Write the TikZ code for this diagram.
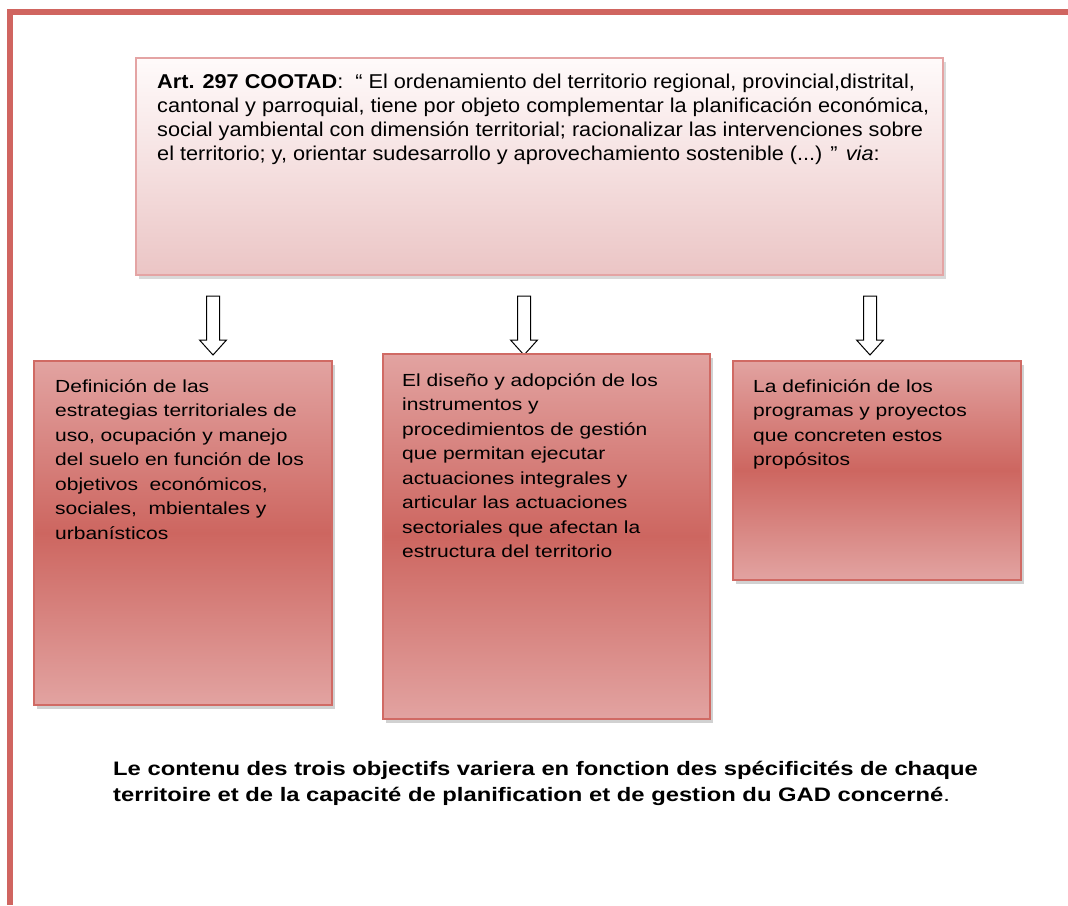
\documentclass[tikz,border=0pt]{standalone}
\usepackage{fontspec}
\setmainfont{Liberation Sans}
\newfontfamily\goalfont[FakeStretch=1.2]{Liberation Sans}
\newfontfamily\artfont[FakeStretch=1.085]{Liberation Sans}
\newfontfamily\remarkfont[FakeStretch=1.22]{Liberation Sans}
\usetikzlibrary{shadows}
\definecolor{framered}{RGB}{208,101,96}
\definecolor{toptop}{RGB}{255,251,251}
\definecolor{topbottom}{RGB}{235,197,197}
\definecolor{topline}{RGB}{228,164,164}
\definecolor{goallight}{RGB}{226,163,161}
\definecolor{goaldark}{RGB}{205,102,96}
\definecolor{goalline}{RGB}{208,106,100}
\tikzset{
  frame/.style={line width=6.5pt,framered},
  topbox/.style={draw=topline,line width=1.5pt,top color=toptop,bottom color=topbottom,
    drop shadow={shadow xshift=3pt,shadow yshift=-4pt,opacity=0.25,fill=black!60}},
  goalbox/.style={draw=goalline,line width=1.5pt,top color=goallight,bottom color=goallight,
    middle color=goaldark,drop shadow={shadow xshift=3pt,shadow yshift=-4pt,opacity=0.3,fill=black!60}},
  boxtext/.style={inner sep=0pt,anchor=base west},
  hollow/.style={draw=black,fill=white,line width=1pt}
}

\begin{document}
\begin{tikzpicture}[x=1pt,y=-1pt]
    \useasboundingbox (0,0) rectangle (1068,905);
    \draw[frame] (1068,12) -- (10,12) -- (10,905);

    \node[topbox,anchor=north west,minimum width=807pt,minimum height=217pt] (cootad) at (135,57) {};
    \node[boxtext] (cootadtxt) at (157,88.5) {\parbox[t]{780pt}{\artfont\fontsize{20}{24}\selectfont
      \textbf{Art. 297 COOTAD}:\ \ “ El ordenamiento del territorio regional, provincial,distrital,\\
      cantonal y parroquial, tiene por objeto complementar la planificación económica,\\
      social yambiental con dimensión territorial; racionalizar las intervenciones sobre\\
      el territorio; y, orientar sudesarrollo y aprovechamiento sostenible (...) ” \textit{via}:}};

    \foreach \ax in {213,524,870}
      \draw[hollow] (\ax-6.5,296) -- (\ax+6.5,296) -- (\ax+6.5,340) -- (\ax+13.5,340)
        -- (\ax,355) -- (\ax-13.5,340) -- (\ax-6.5,340) -- cycle;

    \node[goalbox,anchor=north west,minimum width=298pt,minimum height=344pt] (estrat) at (33,360) {};
    \node[goalbox,anchor=north west,minimum width=327pt,minimum height=365pt] (instr) at (382,353) {};
    \node[goalbox,anchor=north west,minimum width=288pt,minimum height=219pt] (progr) at (732,360) {};

    \node[boxtext] (estrattxt) at (55,392) {\parbox[t]{270pt}{\goalfont\fontsize{17.5}{24.5}\selectfont
      Definición de las\\ estrategias territoriales de\\ uso, ocupación y manejo\\
      del suelo en función de los\\ objetivos\ \ económicos,\\ sociales,\ \ mbientales y\\ urbanísticos}};
    \node[boxtext] (instrtxt) at (402,386) {\parbox[t]{300pt}{\goalfont\fontsize{17.5}{24.5}\selectfont
      El diseño y adopción de los\\ instrumentos y\\ procedimientos de gestión\\
      que permitan ejecutar\\ actuaciones integrales y\\ articular las actuaciones\\
      sectoriales que afectan la\\ estructura del territorio}};
    \node[boxtext] (progrtxt) at (753,392) {\parbox[t]{260pt}{\goalfont\fontsize{17.5}{24.5}\selectfont
      La definición de los\\ programas y proyectos\\ que concreten estos\\ propósitos}};

    \node[boxtext] (remark) at (113,775) {\parbox[t]{950pt}{\remarkfont\fontsize{19.5}{26}\selectfont
      \textbf{Le contenu des trois objectifs variera en fonction des spécificités de chaque}\\
      \textbf{territoire et de la capacité de planification et de gestion du GAD concerné}.}};
  \end{tikzpicture}
\end{document}
